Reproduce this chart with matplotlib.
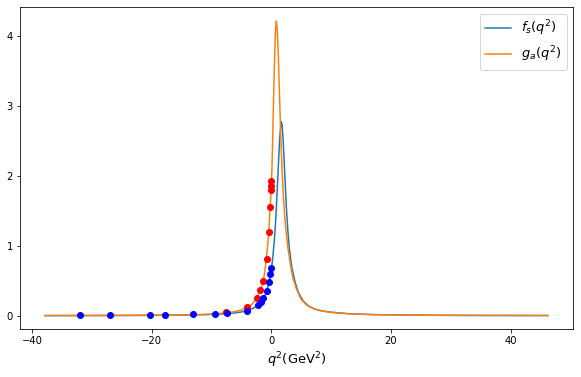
import matplotlib
matplotlib.use("Agg")
import matplotlib.pyplot as plt

# f_s(q^2) curve
fs_q2 = [-37.8, -32, -27, -22, -18, -14, -11, -9, -7.5, -6, -5, -4, -3, -2.3, -1.7,
         -1.2, -0.8, -0.4, -0.1, 0.2, 0.5, 0.75, 1.0, 1.2, 1.4, 1.55, 1.67, 1.8, 1.95,
         2.1, 2.3, 2.5, 2.75, 3.0, 3.4, 3.9, 4.5, 5.3, 6.2, 7.2, 8.5, 10, 13, 17, 22,
         28, 35, 46.2]
fs_val = [0.0016, 0.0021, 0.003, 0.0043, 0.0063, 0.0099, 0.015, 0.0212, 0.0286, 0.0407,
          0.0535, 0.0736, 0.107, 0.146, 0.199, 0.266, 0.348, 0.47, 0.604, 0.80, 1.08,
          1.40, 1.83, 2.20, 2.54, 2.70, 2.77, 2.72, 2.53, 2.28, 1.91, 1.56, 1.22, 0.96,
          0.70, 0.50, 0.333, 0.212, 0.14, 0.096, 0.068, 0.05, 0.028, 0.016, 0.0095,
          0.006, 0.004, 0.0025]

# g_a(q^2) curve
ga_q2 = [-37.8, -32, -27, -22, -18, -14, -11, -9, -7.5, -6, -5, -4, -3.2, -2.5, -2.0,
         -1.6, -1.2, -0.9, -0.6, -0.4, -0.2, 0.0, 0.1, 0.2, 0.3, 0.4, 0.5, 0.6, 0.7,
         0.83, 0.95, 1.05, 1.15, 1.3, 1.45, 1.6, 1.8, 2.0, 2.25, 2.5, 2.8, 3.2, 3.6,
         4.2, 5.0, 6.0, 7.0, 8.5, 10, 13, 17, 22, 28, 35, 46.2]
ga_val = [0.002, 0.0026, 0.0037, 0.0054, 0.008, 0.013, 0.02, 0.029, 0.041, 0.06, 0.082,
          0.118, 0.168, 0.241, 0.33, 0.42, 0.57, 0.76, 1.02, 1.25, 1.55, 1.85, 2.1,
          2.45, 2.85, 3.2, 3.55, 3.85, 4.08, 4.21, 4.13, 3.97, 3.75, 3.32, 2.9, 2.5,
          2.05, 1.72, 1.4, 1.17, 0.95, 0.72, 0.54, 0.38, 0.23, 0.145, 0.10, 0.066,
          0.047, 0.026, 0.015, 0.009, 0.0055, 0.0035, 0.002]

# data points
red_q2 = [-7.5, -4.05, -2.4, -1.85, -1.45, -0.78, -0.45, -0.22, -0.06, -0.03, -0.05]
red_val = [0.05, 0.12, 0.26, 0.37, 0.49, 0.81, 1.19, 1.55, 1.80, 1.86, 1.92]

blue_q2 = [-31.9, -27.0, -20.2, -17.8, -13.1, -9.4, -7.4, -4.06, -2.28, -1.72, -1.44,
           -0.72, -0.33, -0.17, 0.0]
blue_val = [0.01, 0.01, 0.012, 0.014, 0.02, 0.03, 0.035, 0.07, 0.16, 0.2, 0.25,
            0.36, 0.48, 0.59, 0.68]

fig = plt.figure(figsize=(581 / 72, 377 / 72), dpi=72)
ax = fig.add_axes([20 / 581, 48 / 377, 553 / 581, 322 / 377])

ax.plot(fs_q2, fs_val, color='#1f77b4', lw=1.5, label=r'$f_s(q^2)$')
ax.plot(ga_q2, ga_val, color='#ff7f0e', lw=1.5, label=r'$g_a(q^2)$')
ax.scatter(red_q2, red_val, color='red', s=36, zorder=3)
ax.scatter(blue_q2, blue_val, color='blue', s=36, zorder=4)

ax.set_ylim(-0.19, 4.41)
ax.set_xticks([-40, -20, 0, 20, 40])
ax.set_yticks([0, 1, 2, 3, 4])
ax.set_xlabel(r'$q^2$(GeV$^2$)', fontsize=13)
ax.legend(loc='upper right', fontsize=13)

fig.savefig('out.png', dpi=72)
